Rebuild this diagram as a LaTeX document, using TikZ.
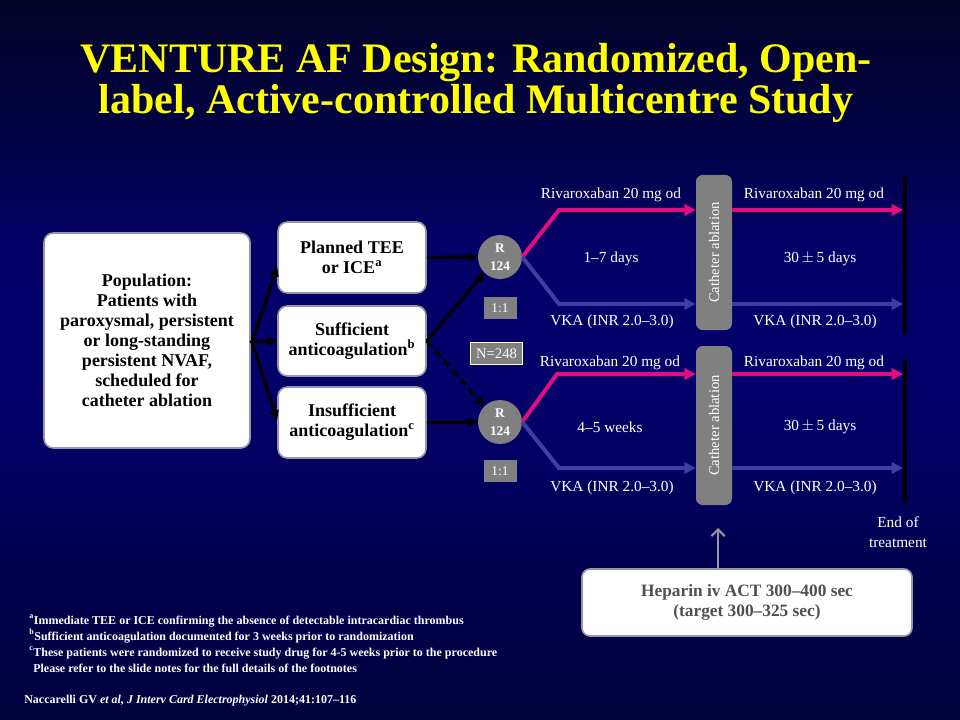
\documentclass[tikz,border=0pt]{standalone}
\usepackage{fontspec}
\setmainfont{Liberation Serif}
\usetikzlibrary{arrows.meta,calc}
\definecolor{bga}{RGB}{4,4,40}
\definecolor{bgb}{RGB}{2,2,72}
\definecolor{bgc}{RGB}{4,0,104}
\definecolor{bgd}{RGB}{4,0,106}
\definecolor{bge}{RGB}{2,0,96}
\definecolor{bgf}{RGB}{2,0,74}
\definecolor{bgg}{RGB}{2,2,62}
\pgfdeclareverticalshading{slidebg}{100bp}{color(0bp)=(bgg); color(25bp)=(bgg); color(33.3bp)=(bgf); color(42.4bp)=(bge); color(48.6bp)=(bgd); color(57.6bp)=(bgc); color(64.6bp)=(bgb); color(75bp)=(bga); color(100bp)=(bga)}
\definecolor{ttl}{RGB}{255,255,0}
\definecolor{pinkarm}{RGB}{228,12,130}
\definecolor{bluearm}{RGB}{62,62,165}
\definecolor{greybox}{RGB}{128,128,128}
\definecolor{edgegrey}{RGB}{150,150,165}
\definecolor{heptext}{RGB}{80,80,80}
\definecolor{greyarrow}{RGB}{150,150,165}
\begin{document}
\begin{tikzpicture}[x=0.75pt,y=-0.75pt,
  wbox/.style={draw=edgegrey,line width=1.2pt,fill=white,rounded corners=7pt,align=center,inner sep=0pt,text=black},
  boxfont/.style={font=\fontsize{13.5}{15}\selectfont\bfseries},
  rc/.style={circle,fill=greybox,minimum size=33pt,inner sep=0pt,text=white,align=center,font=\fontsize{10}{14}\selectfont\bfseries},
  ratio/.style={fill=greybox,minimum width=24.75pt,minimum height=16.5pt,inner sep=0pt,text=white,font=\fontsize{10}{12}\selectfont},
  cath/.style={fill=greybox,rounded corners=5pt,minimum width=27pt,inner sep=0pt,text=white,font=\fontsize{11}{13}\selectfont},
  lbl/.style={text=white,inner sep=0pt,font=\fontsize{11.5}{13}\selectfont},
  fnote/.style={text=white,inner sep=0pt,anchor=base west,font=\fontsize{9}{10}\selectfont\bfseries},
  blk/.style={black,line width=2.4pt,-{Triangle[length=7pt,width=6.5pt]}},
  pk/.style={pinkarm,line width=3pt,-{Triangle[length=8.5pt,width=8.5pt]}},
  bl/.style={bluearm,line width=3pt,-{Triangle[length=8.5pt,width=8.5pt]}},
  endbar/.style={black,line width=2.5pt}
]
\useasboundingbox (0,0) rectangle (960,720);
\shade[shading=slidebg] (0,0) rectangle (960,720);

% title
\node[text=ttl,align=center,inner sep=0pt,font=\fontsize{31.5}{31}\selectfont\bfseries] (title) at (476,83)
  {VENTURE AF Design: Randomized, Open-\\label, Active-controlled Multicentre Study};

% boxes
\node[wbox,boxfont,minimum width=154.5pt,minimum height=161.25pt] (pop) at (147,340.5)
  {Population:\\Patients with\\paroxysmal, persistent\\or long-standing\\persistent NVAF,\\scheduled for\\catheter ablation};
\node[wbox,boxfont,minimum width=111pt,minimum height=53.25pt] (tee) at (352,257.5)
  {Planned TEE\\or ICE\textsuperscript{a}};
\node[wbox,boxfont,minimum width=111pt,minimum height=52.5pt] (suf) at (352,341)
  {Sufficient\\anticoagulation\textsuperscript{b}};
\node[wbox,boxfont,minimum width=111pt,minimum height=53.25pt] (ins) at (352,422.5)
  {Insufficient\\anticoagulation\textsuperscript{c}};

% R circles and ratio boxes
\node[rc] (r1) at (500,257) {R\\124};
\node[rc] (r2) at (500,422) {R\\124};
\node[ratio] (q1) at (500,308) {1:1};
\node[ratio] (q2) at (500,471) {1:1};
\node[ratio,draw=white,line width=0.8pt,minimum width=39pt,minimum height=17pt,font=\fontsize{11}{12}\selectfont] (n248) at (496.5,353.5) {N=248};

% population arrows
\coordinate (fan) at (252,342);
\draw[blk] (pop.east) -- (fan) -- ([yshift=-7pt]tee.west);
\draw[blk] (fan) -- (suf.west);
\draw[blk] (fan) -- ([yshift=2pt]ins.west);
\draw[blk] (tee.east) -- (r1.west);
\draw[blk] (ins.east) -- (r2.west);
\draw[blk] (suf.east) -- (r1.south west);
\draw[blk,dash pattern=on 6pt off 3.5pt] (suf.east) -- (r2.north west);

% catheter boxes
\node[cath,minimum height=116.25pt] (cath1) at (714,252.5) {\rotatebox{90}{Catheter ablation}};
\node[cath,minimum height=119.25pt] (cath2) at (714,425.5) {\rotatebox{90}{Catheter ablation}};

% end bars
\coordinate (e1t) at (905,177);
\coordinate (e1b) at (905,334);
\coordinate (e2t) at (905,360);
\coordinate (e2b) at (905,503);
\draw[endbar] (e1t) -- (e1b);
\draw[endbar] (e2t) -- (e2b);

% upper arms
\coordinate (b1p) at (559,210);
\coordinate (b1v) at (559,304);
\draw[pk] (r1.east) -- (b1p) -- (cath1.west |- b1p);
\draw[bl] (r1.east) -- (b1v) -- (cath1.west |- b1v);
\draw[pk,shorten >=1.5pt] (cath1.east |- b1p) -- (e1t |- b1p);
\draw[bl,shorten >=1.5pt] (cath1.east |- b1v) -- (e1t |- b1v);

% lower arms
\coordinate (b2p) at (557,374);
\coordinate (b2v) at (559,468);
\draw[pk] (r2.east) -- (b2p) -- (cath2.west |- b2p);
\draw[bl] (r2.east) -- (b2v) -- (cath2.west |- b2v);
\draw[pk,shorten >=1.5pt] (cath2.east |- b2p) -- (e2t |- b2p);
\draw[bl,shorten >=1.5pt] (cath2.east |- b2v) -- (e2t |- b2v);

% labels
\node[lbl] (l1) at (611,195) {Rivaroxaban 20 mg od};
\node[lbl] (l2) at (814,195) {Rivaroxaban 20 mg od};
\node[lbl] (l3) at (611,259) {1--7 days};
\node[lbl] (l4) at (820,259) {30\,$\pm$\,5 days};
\node[lbl] (l5) at (612,322) {VKA (INR 2.0--3.0)};
\node[lbl] (l6) at (815,322) {VKA (INR 2.0--3.0)};
\node[lbl] (l7) at (610,363) {Rivaroxaban 20 mg od};
\node[lbl] (l8) at (814,363) {Rivaroxaban 20 mg od};
\node[lbl] (l9) at (610,427) {4--5 weeks};
\node[lbl] (l10) at (820,427) {30\,$\pm$\,5 days};
\node[lbl] (l11) at (612,488) {VKA (INR 2.0--3.0)};
\node[lbl] (l12) at (815,488) {VKA (INR 2.0--3.0)};
\node[lbl,align=center,font=\fontsize{11.5}{15}\selectfont] (eot) at (898,532) {End of\\treatment};

% heparin
\node[wbox,draw=edgegrey,rounded corners=6pt,minimum width=247.5pt,minimum height=50.25pt,text=heptext,font=\fontsize{13}{15}\selectfont\bfseries] (hep) at (747,602.5)
  {Heparin iv ACT 300--400 sec\\(target 300--325 sec)};
\coordinate (htip) at (718,528);
\draw[greyarrow,line width=1.5pt,-{Straight Barb[length=5pt,width=10pt]}] (hep.north -| htip) -- (htip);

% footnotes
\node[fnote] (f1) at (29,624) {\textsuperscript{a}Immediate TEE or ICE confirming the absence of detectable intracardiac thrombus};
\node[fnote] (f2) at (29,640) {\textsuperscript{b}Sufficient anticoagulation documented for 3 weeks prior to randomization};
\node[fnote] (f3) at (29,656) {\textsuperscript{c}These patients were randomized to receive study drug for 4-5 weeks prior to the procedure};
\node[fnote] (f4) at (33,672) {Please refer to the slide notes for the full details of the footnotes};
\node[fnote,font=\fontsize{9}{11}\selectfont\bfseries] (cite) at (24,703) {Naccarelli GV \textit{et al, J Interv Card Electrophysiol} 2014;41:107--116};
\end{tikzpicture}
\end{document}
